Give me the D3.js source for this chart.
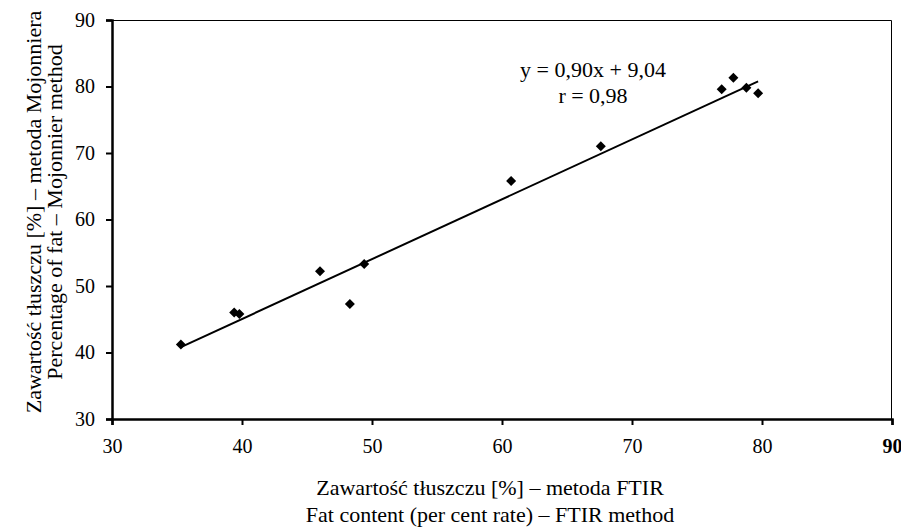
<!DOCTYPE html>
<html>
  <head>
    <meta charset="utf-8">
    <title>FTIR vs Mojonnier</title>
    <script src="https://cdn.jsdelivr.net/npm/d3@7"></script>
    <style>
      body { margin: 0; background: #fff; }
      svg text { font-family: "Liberation Serif", "Times New Roman", serif; fill: #000; }
      .tick text { font-size: 20px; }
      .axis-title { font-size: 22px; }
      .eq { font-size: 22px; }
    </style>
  </head>
  <body>
    <svg id="chart" width="901" height="528"></svg>
    <script>
    // FTIR (x) vs Mojonnier (y)
    var ftir      = [35.3, 39.4, 39.8, 46.0, 48.3, 49.4, 60.7, 67.6, 76.9, 77.8, 78.8, 79.7];
    var mojonnier = [41.2, 46.0, 45.8, 52.2, 47.3, 53.3, 65.8, 71.0, 79.6, 81.3, 79.8, 79.0];
    var xTicks = [30, 40, 50, 60, 70, 80, 90];
    var yTicks = [30, 40, 50, 60, 70, 80, 90];
    var slope = 0.90, intercept = 9.04;
    var eqLines = ["y = 0,90x + 9,04", "r = 0,98"];

    var svg = d3.select("#chart");
    var margin = {top: 20, left: 112, right: 9, bottom: 109};
    var width = 901 - margin.left - margin.right;
    var height = 528 - margin.top - margin.bottom;

    var x = d3.scaleLinear().domain([30, 90]).range([0, width]);
    var y = d3.scaleLinear().domain([30, 90]).range([height, 0]);

    var g = svg.append("g")
      .attr("transform", "translate(" + margin.left + "," + margin.top + ")");

    // thin top and right frame
    g.append("path")
      .attr("d", "M0,0.5H" + (width - 0.5) + "V" + height)
      .attr("fill", "none")
      .attr("stroke", "#000")
      .attr("stroke-width", 1);

    var xAxis = g.append("g")
      .attr("transform", "translate(0," + height + ")")
      .call(d3.axisBottom(x).tickValues(xTicks).tickSize(6).tickPadding(14));
    xAxis.select(".domain").attr("stroke-width", 2.5);
    xAxis.selectAll(".tick line").attr("stroke-width", 2);
    xAxis.selectAll(".tick text")
      .style("font-weight", function(d) { return d == 90 ? "bold" : null; });

    var yAxis = g.append("g")
      .call(d3.axisLeft(y).tickValues(yTicks).tickSize(6).tickPadding(11));
    yAxis.select(".domain").attr("stroke-width", 2.5);
    yAxis.selectAll(".tick line").attr("stroke-width", 2);

    // regression line across the data range
    var x0 = d3.min(ftir), x1 = d3.max(ftir);
    g.append("line")
      .attr("x1", x(x0)).attr("y1", y(slope * x0 + intercept))
      .attr("x2", x(x1)).attr("y2", y(slope * x1 + intercept))
      .attr("stroke", "#000")
      .attr("stroke-width", 2);

    var pts = ftir.map(function(v, i) { return [v, mojonnier[i]]; });
    g.selectAll(".pt")
      .data(pts)
      .enter().append("path")
      .attr("class", "pt")
      .attr("d", d3.symbol().type(d3.symbolSquare).size(50))
      .attr("transform", function(d) {
        return "translate(" + x(d[0]) + "," + y(d[1]) + ") rotate(45)";
      })
      .attr("fill", "#000");

    g.selectAll(".eq")
      .data(eqLines)
      .enter().append("text")
      .attr("class", "eq")
      .attr("x", 481)
      .attr("y", function(d, i) { return 57 + i * 26; })
      .attr("text-anchor", "middle")
      .text(function(d) { return d; });

    // axis titles
    var xt = svg.append("text")
      .attr("class", "axis-title")
      .attr("text-anchor", "middle")
      .attr("transform", "translate(490,495)");
    xt.append("tspan").attr("x", 0).attr("y", 0).text("Zawartość tłuszczu [%] – metoda FTIR");
    xt.append("tspan").attr("x", 0).attr("y", 27).text("Fat content (per cent rate) – FTIR method");

    var yt = svg.append("text")
      .attr("class", "axis-title")
      .attr("text-anchor", "middle")
      .attr("transform", "translate(41,212) rotate(-90)");
    yt.append("tspan").attr("x", 0).attr("y", 0).text("Zawartość tłuszczu [%] – metoda Mojonniera");
    yt.append("tspan").attr("x", 0).attr("y", 21).text("Percentage of fat – Mojonnier method");
    </script>
  </body>
</html>
